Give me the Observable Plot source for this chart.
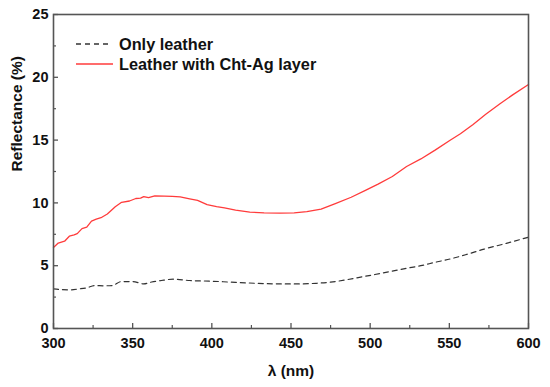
<!DOCTYPE html>
<html>
<head>
<meta charset="utf-8">
<script src="https://cdn.jsdelivr.net/npm/d3@7"></script>
<script src="https://cdn.jsdelivr.net/npm/@observablehq/plot@0.6"></script>
<style>
  html, body { margin: 0; padding: 0; background: #fff; }
  #wrap { position: relative; width: 550px; height: 387px; font-family: "Liberation Sans", Arial, sans-serif; }
  #legend { position: absolute; left: 76px; top: 34px; font-weight: bold; font-size: 16.3px; color: #111; }
  .row { display: flex; align-items: center; height: 20px; }
  .row svg { width: 43px; height: 20px; flex: none; }
</style>
</head>
<body>
<div id="wrap"><div id="chart"></div>
  <div id="legend"></div>
</div>
<script>
// Series: "Only leather" (dashed black)
const leatherX = [300,305,311,316,321,326,332,337,343,350,357,362,368,376,386,399,412,422,435,445,456,466,475,485,494,503,513,522,532,541,551,561,572,586,600];
const leatherY = [3.15,3.1,3.08,3.15,3.24,3.42,3.4,3.42,3.74,3.74,3.55,3.7,3.82,3.93,3.82,3.77,3.69,3.63,3.57,3.55,3.55,3.6,3.69,3.88,4.09,4.3,4.54,4.77,5.0,5.27,5.55,5.9,6.32,6.78,7.27];
// Series: "Leather with Cht-Ag layer" (red)
const chtX = [300,303,307,310,313,315,318,321,324,327,330,334,339,343,348,352,355,357,360,364,370,375,380,386,391,397,403,408,415,424,433,443,452,460,469,478,488,497,505,514,523,532,541,550,557,565,573,582,590,600];
const chtY = [6.45,6.8,6.95,7.35,7.45,7.55,7.95,8.07,8.55,8.7,8.82,9.12,9.7,10.05,10.15,10.35,10.38,10.5,10.42,10.55,10.54,10.52,10.48,10.32,10.2,9.87,9.71,9.6,9.42,9.27,9.2,9.18,9.2,9.3,9.5,9.95,10.45,11.0,11.5,12.1,12.9,13.5,14.2,14.95,15.5,16.25,17.05,17.9,18.6,19.43];

const seriesNames = ["Only leather", "Leather with Cht-Ag layer"];
const xMajor = [300,350,400,450,500,550,600];
const xMinor = [325,375,425,475,525,575];
const yMajor = [0,5,10,15,20,25];
const yMinor = [2.5,7.5,12.5,17.5,22.5];
const xLabel = "λ (nm)";
const yLabel = "Reflectance (%)";

const RED = "#ff3b3b";
const BLACK = "#333";
const AXIS = "#555";

const leather = leatherX.map((x, i) => ({x, y: leatherY[i]}));
const cht = chtX.map((x, i) => ({x, y: chtY[i]}));

const chart = Plot.plot({
  width: 550,
  height: 387,
  marginLeft: 53,
  marginRight: 22,
  marginTop: 14,
  marginBottom: 59,
  style: {fontFamily: "'Liberation Sans', Arial, sans-serif", fontSize: "14.5px", fontWeight: "bold", color: "#111", background: "#fff"},
  x: {domain: [300, 600]},
  y: {domain: [0, 25]},
  marks: [
    Plot.line(leather, {x: "x", y: "y", stroke: BLACK, strokeWidth: 1.2, strokeDasharray: "5,4", curve: "monotone-x"}),
    Plot.line(cht, {x: "x", y: "y", stroke: RED, strokeWidth: 1.3}),
    // inward ticks
    Plot.axisX({ticks: xMajor, tickSize: 5, dy: -5, tickFormat: () => "", label: null, stroke: AXIS, strokeWidth: 1.3}),
    Plot.axisX({ticks: xMinor, tickSize: 3, dy: -3, tickFormat: () => "", label: null, stroke: AXIS, strokeWidth: 1.2}),
    Plot.axisY({ticks: yMajor, tickSize: 5, dx: 5, tickFormat: () => "", label: null, stroke: AXIS, strokeWidth: 1.3}),
    Plot.axisY({ticks: yMinor, tickSize: 3, dx: 3, tickFormat: () => "", label: null, stroke: AXIS, strokeWidth: 1.2}),
    // tick labels
    Plot.axisX({ticks: xMajor, tickSize: 0, tickPadding: 9, label: null, fill: "#111", fontSize: 14.5}),
    Plot.axisY({ticks: yMajor, tickSize: 0, tickPadding: 5, label: null, fill: "#111", fontSize: 14.5}),
    Plot.frame({stroke: AXIS, strokeWidth: 1.6}),
    Plot.text([xLabel], {text: d => d, frameAnchor: "bottom", dy: 47, fill: "#111", fontSize: 15.5, fontWeight: "bold"}),
    Plot.text([yLabel], {text: d => d, frameAnchor: "left", dx: -36, rotate: -90, fill: "#111", fontSize: 15.5, fontWeight: "bold"})
  ]
});
document.getElementById("chart").appendChild(chart);

// Legend
const legend = document.getElementById("legend");
const styles = [
  {stroke: BLACK, dash: "5,4", w: 1.3, len: 34},
  {stroke: RED, dash: null, w: 1.6, len: 37}
];
seriesNames.forEach((name, i) => {
  const row = document.createElement("div");
  row.className = "row";
  const s = styles[i];
  row.innerHTML = `<svg><line x1="0" x2="${s.len}" y1="10" y2="10" stroke="${s.stroke}" stroke-width="${s.w}" ${s.dash ? `stroke-dasharray="${s.dash}"` : ""}/></svg><span>${name}</span>`;
  legend.appendChild(row);
});
</script>
</body>
</html>
